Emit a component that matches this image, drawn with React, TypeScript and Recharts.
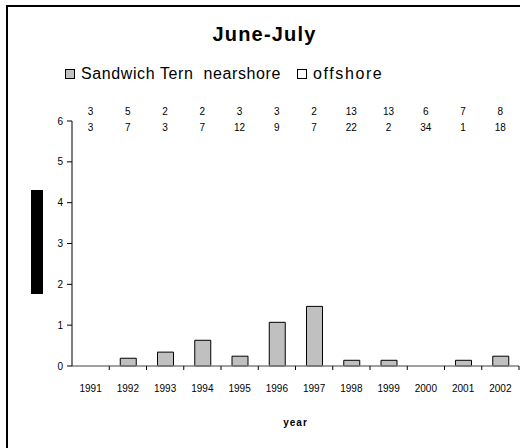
import { BarChart, Bar, XAxis, YAxis } from 'recharts';

const YEARS = [1991, 1992, 1993, 1994, 1995, 1996, 1997, 1998, 1999, 2000, 2001, 2002];
const NEARSHORE = [0, 0.19, 0.34, 0.63, 0.24, 1.07, 1.46, 0.14, 0.14, 0, 0.14, 0.24];
const OFFSHORE = [0, 0, 0, 0, 0, 0, 0, 0, 0, 0, 0, 0];
const N_NEARSHORE = [3, 5, 2, 2, 3, 3, 2, 13, 13, 6, 7, 8];
const N_OFFSHORE = [3, 7, 3, 7, 12, 9, 7, 22, 2, 34, 1, 18];
const Y_TICKS = [0, 1, 2, 3, 4, 5, 6];
const SERIES_NAMES = ['Sandwich Tern  nearshore', 'offshore'];

const FONT = "'Liberation Sans', Arial, sans-serif";

const rows = YEARS.map((year, i) => ({
  year,
  nearshore: NEARSHORE[i],
  offshore: OFFSHORE[i],
}));

// labels sit on the years, tick marks sit between the years
const BOTTOM_TICKS = YEARS.flatMap((y) => [y, y + 0.5]);

const BottomTick = ({ x, y, payload }: any) => {
  const v = payload.value as number;
  if (Number.isInteger(v)) {
    return (
      <text x={x} y={y + 22} dy="0.35em" textAnchor="middle" fontSize={10} fill="#000" fontFamily={FONT}>
        {v}
      </text>
    );
  }
  return <line x1={x} x2={x} y1={y} y2={y + 4} stroke="#000" strokeWidth={1} />;
};

// sample sizes printed above each year
const CountTick = ({ x, y, payload }: any) => {
  const i = YEARS.indexOf(payload.value);
  if (i < 0) return null;
  return (
    <g fontSize={10} fill="#000" fontFamily={FONT} textAnchor="middle">
      <text x={x} y={y - 10} dy="0.35em">{N_NEARSHORE[i]}</text>
      <text x={x} y={y + 6} dy="0.35em">{N_OFFSHORE[i]}</text>
    </g>
  );
};

const legendBox = (fill: string) => (
  <span
    style={{
      display: 'inline-block',
      width: 10,
      height: 10,
      boxSizing: 'border-box',
      border: '1px solid #000',
      background: fill,
      marginRight: 6,
    }}
  />
);

export default function App() {
  return (
    <div
      style={{
        position: 'absolute',
        left: 0,
        top: 0,
        width: 520,
        height: 448,
        overflow: 'hidden',
        background: '#fff',
        fontFamily: FONT,
      }}
    >
      <div
        style={{
          position: 'absolute',
          left: 6,
          top: 5,
          width: 600,
          height: 600,
          border: '2px solid #000',
        }}
      />
      <div
        style={{
          position: 'absolute',
          left: 0,
          top: 22,
          width: 529,
          height: 24,
          lineHeight: '24px',
          textAlign: 'center',
          fontSize: 20,
          fontWeight: 'bold',
          letterSpacing: 1.2,
        }}
      >
        June-July
      </div>
      <div
        style={{
          position: 'absolute',
          left: 65,
          top: 64,
          height: 20,
          display: 'flex',
          alignItems: 'center',
          fontSize: 16,
          letterSpacing: 0.6,
          whiteSpace: 'pre',
        }}
      >
        {legendBox('#c0c0c0')}
        <span style={{ marginRight: 16 }}>{SERIES_NAMES[0]}</span>
        {legendBox('#fff')}
        <span style={{ letterSpacing: 1.6 }}>{SERIES_NAMES[1]}</span>
      </div>
      <div
        style={{ position: 'absolute', left: 31, top: 190, width: 12, height: 104, background: '#000' }}
      />
      <div style={{ position: 'absolute', left: 0, top: 0 }}>
        <BarChart width={520} height={448} data={rows} margin={{ top: 120, right: 1, left: 32, bottom: 18 }}>
          <XAxis
            xAxisId="main"
            dataKey="year"
            type="number"
            domain={[1990.5, 2002.5]}
            ticks={BOTTOM_TICKS}
            interval={0}
            height={64}
            tickSize={0}
            tickMargin={0}
            tickLine={false}
            axisLine={{ stroke: '#808080', strokeWidth: 1.5 }}
            tick={<BottomTick />}
            label={{
              value: 'year',
              position: 'insideBottom',
              offset: 4,
              fontSize: 10,
              fontWeight: 'bold',
              fill: '#000',
              letterSpacing: 1,
              fontFamily: FONT,
            }}
          />
          <XAxis
            xAxisId="top"
            orientation="top"
            dataKey="year"
            type="number"
            domain={[1990.5, 2002.5]}
            ticks={YEARS}
            interval={0}
            height={1}
            tickSize={0}
            tickMargin={0}
            tickLine={false}
            axisLine={false}
            tick={<CountTick />}
          />
          <YAxis
            domain={[0, 6]}
            ticks={Y_TICKS}
            interval={0}
            width={40}
            tickSize={5}
            tickMargin={4}
            axisLine={{ stroke: '#000' }}
            tickLine={{ stroke: '#000' }}
            tick={{ fontSize: 10, fill: '#000', fontFamily: FONT }}
          />
          <Bar
            xAxisId="main"
            dataKey="nearshore"
            barSize={16}
            fill="#c0c0c0"
            stroke="#000"
            strokeWidth={1}
            isAnimationActive={false}
          />
          <Bar
            xAxisId="top"
            dataKey="offshore"
            barSize={16}
            fill="#fff"
            stroke="#000"
            strokeWidth={1}
            isAnimationActive={false}
          />
        </BarChart>
      </div>
    </div>
  );
}
